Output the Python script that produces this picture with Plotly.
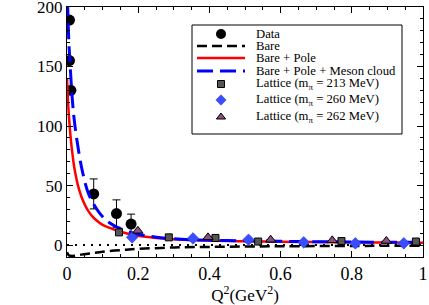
import plotly.graph_objects as go

# Experimental data
data_q2 = [0.007, 0.007, 0.011, 0.075, 0.139, 0.18]
data_gp = [189, 155, 130, 43, 26.5, 17.7]
data_err = [2, 2, 2, 12.6, 11.5, 8.3]

# Model curves
bare_q2 = [0, 0.005, 0.01, 0.02, 0.04, 0.07, 0.1, 0.15, 0.2, 0.3, 0.4, 0.5, 0.6, 0.8, 1.0]
bare_gp = [-6, -8.5, -9, -9, -8, -6.8, -5.6, -4.2, -3.2, -2, -1.5, -1.2, -1, -0.7, -0.5]

pole_q2 = [0, 0.004, 0.008, 0.012, 0.016, 0.02, 0.025, 0.03, 0.04, 0.05, 0.06, 0.07, 0.08,
           0.1, 0.12, 0.15, 0.2, 0.25, 0.3, 0.4, 0.5, 0.6, 0.7, 0.8, 0.9, 1.0]
pole_gp = [140, 115, 98, 85, 75, 66, 58, 51, 41, 34, 28.5, 24.5, 21.5,
           17, 14.5, 11.2, 7.8, 6, 5, 3.8, 3.2, 2.8, 2.5, 2.3, 2.1, 2.0]

meson_q2 = [0, 0.002, 0.005, 0.01, 0.015, 0.02, 0.03, 0.044, 0.062, 0.09, 0.118, 0.165,
            0.22, 0.27, 0.35, 0.45, 0.6, 0.8, 1.0]
meson_gp = [225, 200, 172, 145, 122, 106, 84, 61, 42, 27.5, 19, 12,
            8, 6, 4.5, 3.8, 3.2, 2.6, 2.3]

# Lattice results
lat213_q2 = [0.146, 0.286, 0.417, 0.537, 0.771, 0.98]
lat213_gp = [10.7, 6.5, 6, 3, 3.4, 3]
lat260_q2 = [0.183, 0.354, 0.51, 0.665, 0.81, 0.946]
lat260_gp = [6.5, 5.6, 4.5, 2.3, 1.5, 1.5]
lat262_q2 = [0.199, 0.396, 0.572, 0.745, 0.897]
lat262_gp = [12, 6.5, 4.5, 4, 3.5]

zero_q2 = [0, 1]
zero_gp = [0, 0]

# Legend labels
legend_labels = ["Data", "Bare", "Bare + Pole", "Bare + Pole + Meson cloud",
                 "Lattice (m<sub>π</sub> = 213 MeV)",
                 "Lattice (m<sub>π</sub> = 260 MeV)",
                 "Lattice (m<sub>π</sub> = 262 MeV)"]

FONT = "Liberation Serif"

# Styles
DATA_MK = dict(symbol="circle", size=11, color="black")
BARE_LN = dict(color="black", width=2.5, dash="10px,5px")
POLE_LN = dict(color="#ff0000", width=2.5)
MESON_LN = dict(color="#0000ff", width=3, dash="16px,7px")
L213_MK = dict(symbol="square", size=7, color="#555555", line=dict(color="black", width=1))
L260_MK = dict(symbol="diamond", size=9, color="#3a4dff", line=dict(color="#2030d0", width=0.5))
L262_MK = dict(symbol="triangle-up", size=9, color="#8b4f80", line=dict(color="black", width=1))

fig = go.Figure()

fig.add_trace(go.Scatter(x=zero_q2, y=zero_gp, mode="lines", showlegend=False,
                         line=dict(color="black", width=2, dash="2px,6px")))
fig.add_trace(go.Scatter(x=data_q2, y=data_gp, mode="markers", name=legend_labels[0],
                         marker=DATA_MK,
                         error_y=dict(type="data", array=data_err, color="black",
                                      thickness=1, width=4)))
fig.add_trace(go.Scatter(x=bare_q2, y=bare_gp, mode="lines", name=legend_labels[1],
                         line=dict(**BARE_LN, shape="spline")))
fig.add_trace(go.Scatter(x=pole_q2, y=pole_gp, mode="lines", name=legend_labels[2],
                         line=dict(**POLE_LN, shape="spline")))
fig.add_trace(go.Scatter(x=meson_q2, y=meson_gp, mode="lines", name=legend_labels[3],
                         line=dict(**MESON_LN, shape="spline")))
fig.add_trace(go.Scatter(x=lat213_q2, y=lat213_gp, mode="markers", name=legend_labels[4],
                         marker=L213_MK))
fig.add_trace(go.Scatter(x=lat260_q2, y=lat260_gp, mode="markers", name=legend_labels[5],
                         marker=L260_MK))
fig.add_trace(go.Scatter(x=lat262_q2, y=lat262_gp, mode="markers", name=legend_labels[6],
                         marker=L262_MK))

# ---- Hand-drawn compact legend (overlay axes in pixel units) ----
PX_L, PX_R, PX_T, PX_B = 67, 423, 7, 257
box = dict(x0=192, x1=402, y0=25, y1=134)
row_y = [34, 46, 58, 71, 84, 100, 117]
sym_x0, sym_x1, sym_xc, text_x = 197, 245, 221, 254

shapes = [dict(type="rect", xref="x2", yref="y2", x0=box["x0"], x1=box["x1"],
               y0=box["y0"], y1=box["y1"], line=dict(color="black", width=1),
               fillcolor="white", layer="below")]
for i, ln in zip([1, 2, 3], [BARE_LN, POLE_LN, MESON_LN]):
    shapes.append(dict(type="line", xref="x2", yref="y2", x0=sym_x0, x1=sym_x1,
                       y0=row_y[i], y1=row_y[i], line=ln, layer="above"))

annotations = [dict(xref="x2", yref="y2", x=text_x, y=row_y[i], text=legend_labels[i],
                    showarrow=False, xanchor="left", yanchor="middle",
                    font=dict(family=FONT, size=12.7, color="black"))
               for i in range(len(legend_labels))]

for i, mk in zip([0, 4, 5, 6], [dict(DATA_MK, size=10), L213_MK,
                                dict(L260_MK, size=8), dict(L262_MK, size=8)]):
    fig.add_trace(go.Scatter(x=[sym_xc], y=[row_y[i]], mode="markers", marker=mk,
                             xaxis="x2", yaxis="y2", showlegend=False,
                             hoverinfo="skip", cliponaxis=False))

# y title as annotation (placed off-centre like the reference)
annotations.append(dict(xref="x2", yref="y2", x=15, y=152,
                        text="G<sub>P</sub> (Q<sup>2</sup>)", textangle=-90,
                        showarrow=False, xanchor="center", yanchor="middle",
                        font=dict(family=FONT, size=17, color="black")))

fig.update_layout(
    width=429, height=305,
    margin=dict(l=PX_L, r=429 - PX_R, t=PX_T, b=305 - PX_B),
    paper_bgcolor="white", plot_bgcolor="white",
    font=dict(family=FONT, color="black", size=14),
    showlegend=False,
    shapes=shapes,
    annotations=annotations,
    xaxis=dict(range=[0, 1], tickmode="array", tickvals=[0, 0.2, 0.4, 0.6, 0.8, 1],
               ticktext=["0", "0.2", "0.4", "0.6", "0.8", "1"],
               ticks="inside", ticklen=6, tickwidth=1, tickcolor="black",
               minor=dict(dtick=0.05, ticks="inside", ticklen=3, tickcolor="black"),
               showgrid=False, zeroline=False, showline=True, linecolor="black",
               linewidth=1, mirror="ticks", automargin=False,
               ticklabeloverflow="allow",
               tickfont=dict(family=FONT, size=18),
               title=dict(text="Q<sup>2</sup>(GeV<sup>2</sup>)",
                          font=dict(family=FONT, size=17))),
    yaxis=dict(range=[-10, 200.01], tickmode="array", tickvals=[0, 50, 100, 150, 200],
               ticks="inside", ticklen=6, tickwidth=1, tickcolor="black",
               minor=dict(dtick=10, ticks="inside", ticklen=3, tickcolor="black"),
               showgrid=False, zeroline=False, showline=True, linecolor="black",
               linewidth=1, mirror="ticks", automargin=False,
               ticklabeloverflow="allow",
               tickfont=dict(family=FONT, size=17)),
    xaxis2=dict(range=[PX_L, PX_R], overlaying="x", visible=False, fixedrange=True),
    yaxis2=dict(range=[PX_B, PX_T], overlaying="y", visible=False, fixedrange=True),
)

fig.write_html("out.html", config={"displayModeBar": False},
               post_script="document.body.style.margin='0';document.body.style.overflow='hidden';")
